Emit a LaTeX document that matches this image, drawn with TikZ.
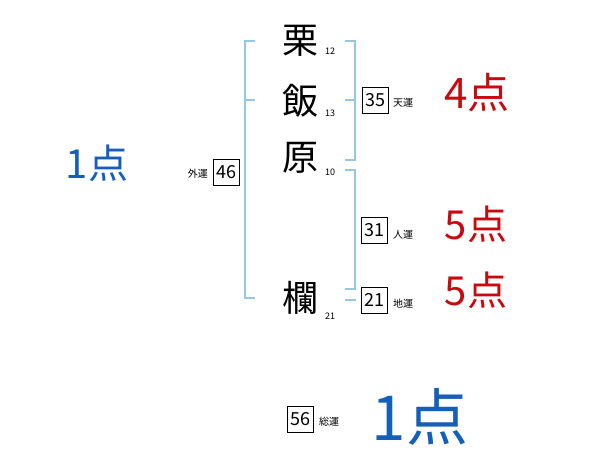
\documentclass[tikz,border=0pt]{standalone}
\usepackage{fontspec}
\setmainfont{Noto Sans CJK JP}
\definecolor{brk}{RGB}{150,200,230}
\definecolor{sblue}{RGB}{20,95,185}
\definecolor{sred}{RGB}{200,10,15}
\begin{document}
\begin{tikzpicture}[x=1pt,y=-1pt,
  kanji/.style={font=\fontsize{36}{36}\selectfont, inner sep=0pt},
  stroke/.style={font=\fontsize{9}{9}\selectfont, inner sep=0pt, anchor=west},
  numbox/.style={draw=black, line width=0.7pt, minimum width=26pt, minimum height=26pt, inner sep=0pt, font=\fontsize{18}{18}\selectfont},
  unlabel/.style={font=\fontsize{10}{10}\selectfont, inner sep=0pt, anchor=west},
  score/.style={font=\fontsize{40}{40}\selectfont, inner sep=0pt},
  bracket/.style={draw=brk, line width=1.6pt}]
\useasboundingbox (0,0) rectangle (600,470);
% characters
\node[kanji] (k1) at (300,41) {栗};
\node[kanji] (k2) at (300,101) {飯};
\node[kanji] (k3) at (300,158) {原};
\node[kanji] (k4) at (300,298) {欄};
\node[stroke] (s1) at (325,51) {12};
\node[stroke] (s2) at (325,113) {13};
\node[stroke] (s3) at (325,172) {10};
\node[stroke] (s4) at (325,316) {21};
% left bracket
\coordinate (lt) at (255,41);
\coordinate (lm) at (255,100);
\coordinate (lb) at (255,298);
\draw[bracket] (lt) -- (245,41) -- (245,298) -- (lb);
\draw[bracket] (245,100) -- (lm);
% right bracket 1
\coordinate (r1t) at (345,41);
\coordinate (r1m) at (345,100);
\coordinate (r1b) at (345,160);
\draw[bracket] (r1t) -- (355,41) -- (355,160) -- (r1b);
\draw[bracket] (355,100) -- (r1m);
% right bracket 2
\coordinate (r2t) at (345,170);
\coordinate (r2b) at (345,289);
\draw[bracket] (r2t) -- (355,170) -- (355,289) -- (r2b);
% boxes
\node[numbox] (gai) at (226,172) {46};
\node[unlabel, anchor=east] (gail) at (208,174) {外運};
\node[numbox] (ten) at (375,100) {35};
\node[unlabel] (tenl) at (393,103) {天運};
\node[numbox] (jin) at (374,230) {31};
\node[unlabel] (jinl) at (393,235) {人運};
\node[numbox] (chi) at (374,300) {21};
\node[unlabel] (chil) at (393,304) {地運};
\node[numbox] (sou) at (300,419) {56};
\node[unlabel] (soul) at (319,422) {総運};
\coordinate (c4) at (345,300);
\coordinate (c4e) at (356,300);
\draw[bracket] (c4) -- (c4e);
% scores
\node[score, text=sblue] (p1) at (97,163) {1点};
\node[score, text=sred, font=\fontsize{42}{42}\selectfont] (p2) at (477,93) {4点};
\node[score, text=sred] (p3) at (476,224) {5点};
\node[score, text=sred] (p4) at (476,290) {5点};
\node[score, text=sblue, font=\fontsize{62}{62}\selectfont] (p5) at (420,417) {1点};
\end{tikzpicture}
\end{document}
